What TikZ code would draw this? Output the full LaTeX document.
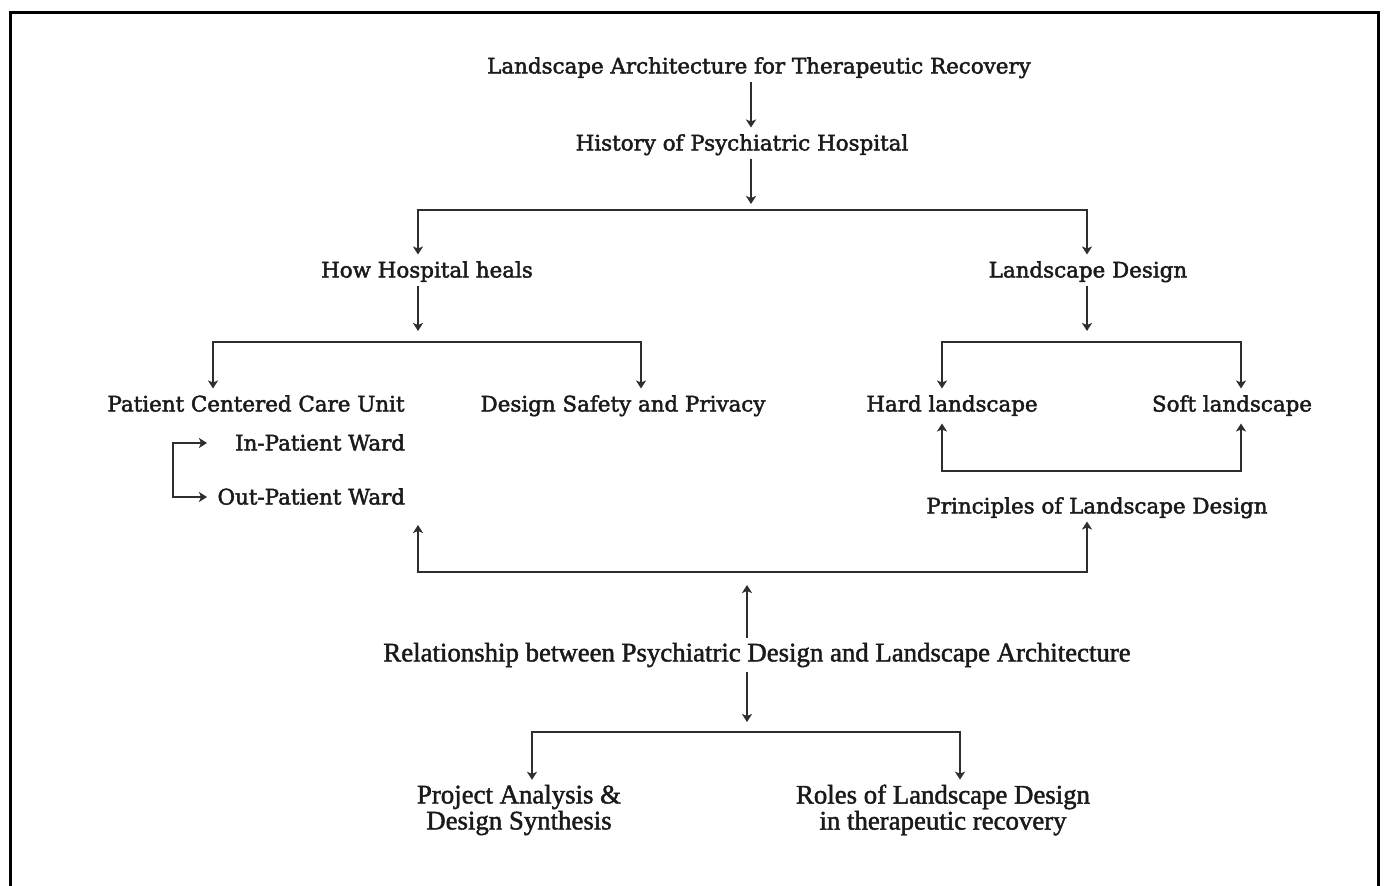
\documentclass[tikz,border=0pt]{standalone}
\usepackage{fontspec}
\setmainfont{DejaVu Serif}
\newfontfamily\timesfont{Liberation Serif}
\usetikzlibrary{arrows.meta}

\definecolor{ink}{HTML}{1A1A1A}
\definecolor{wire}{HTML}{2E2E2E}

% slightly heavier glyphs: fill and stroke the outlines
\newcommand{\heavyon}{\special{pdf:literal direct 2 Tr 0.45 w}}
\newcommand{\heavyoff}{\special{pdf:literal direct 0 Tr}}

\tikzset{
  lbl/.style={inner sep=0pt, outer sep=5pt, text=ink, text height=18pt, text depth=3pt,
    font=\fontsize{21.4}{26}\selectfont, align=center,
    execute at begin node=\heavyon, execute at end node=\heavyoff},
  tlbl/.style={inner sep=0pt, outer sep=5pt, text=ink,
    font=\timesfont\fontsize{26.8}{26}\selectfont, align=center,
    execute at begin node=\heavyon, execute at end node=\heavyoff},
  wirestyle/.style={draw=wire, line width=1.7pt},
  arr/.style={wirestyle, -{Stealth[length=8pt,width=10pt,inset=2pt]}},
  dbl/.style={wirestyle, line join=miter, {Stealth[length=8pt,width=10pt,inset=2pt]}-{Stealth[length=8pt,width=10pt,inset=2pt]}},
}

\begin{document}
\begin{tikzpicture}[x=1pt,y=-1pt]
\useasboundingbox (0,0) rectangle (1385,886);
\fill[white] (0,0) rectangle (1385,886);

% outer frame, open at the bottom edge
\draw[line width=3pt, black, line join=miter] (10,886) -- (10,12) -- (1378,12) -- (1378,886);

% labels
\node[lbl] (title) at (759,66) {Landscape Architecture for Therapeutic Recovery};
\node[lbl] (hist)  at (742,143) {History of Psychiatric Hospital};
\node[lbl] (how)   at (427,270) {How Hospital heals};
\node[lbl] (land)  at (1088,270) {Landscape Design};
\node[lbl] (pccu)  at (256,404) {Patient Centered Care Unit};
\node[lbl] (safe)  at (623,404) {Design Safety and Privacy};
\node[lbl] (hard)  at (952,404) {Hard landscape};
\node[lbl] (soft)  at (1232,404) {Soft landscape};
\node[lbl, anchor=east, outer sep=0pt] (inw)  at (405,443) {In-Patient Ward};
\node[lbl, anchor=east, outer sep=0pt] (outw) at (405,497) {Out-Patient Ward};
\node[lbl] (princ) at (1097,506) {Principles of Landscape Design};
\node[tlbl] (rel)  at (757,655) {Relationship between Psychiatric Design and Landscape Architecture};
\node[tlbl] (proj) at (519,810) {Project Analysis \&\\Design Synthesis};
\node[tlbl] (roles) at (943,810) {Roles of Landscape Design\\in therapeutic recovery};

% junction points
\coordinate (sp)  at (751,0);
\coordinate (a1)  at (418,210);
\coordinate (a2)  at (1087,210);
\coordinate (b1)  at (213,342);
\coordinate (b2)  at (641,342);
\coordinate (c1)  at (942,342);
\coordinate (c2)  at (1241,342);
\coordinate (d1)  at (942,471);
\coordinate (d2)  at (1241,471);
\coordinate (e1)  at (418,572);
\coordinate (e2)  at (1087,572);
\coordinate (etip) at (418,525);
\coordinate (rs)  at (747,0);
\coordinate (f1)  at (532,732);
\coordinate (f2)  at (960,732);
\coordinate (g1)  at (173,443);
\coordinate (g2)  at (173,497);
\coordinate (gt)  at (207,0);

% main spine
\draw[arr] (title.south -| sp) -- (hist.north -| sp);
\draw[arr] (hist.south -| sp) -- ([yshift=6pt]a1 -| sp);

% first split
\draw[dbl] (a1 |- how.north) -- (a1) -- (a2) -- (a2 |- land.north);

% hospital branch
\draw[arr] (how.south -| a1) -- ([yshift=11pt]b1 -| a1);
\draw[dbl] (b1 |- pccu.north) -- (b1) -- (b2) -- (b2 |- safe.north);

% landscape branch
\draw[arr] (land.south -| a2) -- ([yshift=11pt]c1 -| a2);
\draw[dbl] (c1 |- hard.north) -- (c1) -- (c2) -- (c2 |- soft.north);
\draw[dbl] ([yshift=-4pt]hard.south -| d1) -- (d1) -- (d2) -- ([yshift=-4pt]soft.south -| d2);

% ward bracket
\draw[dbl] (g1 -| gt) -- (g1) -- (g2) -- (g2 -| gt);

% joining the two sides
\draw[dbl] (etip) -- (e1) -- (e2) -- (princ.south -| e2);
\draw[arr] (rel.north -| rs) -- ([yshift=-13pt]e1 -| rs);

% final split
\draw[arr] (rel.south -| rs) -- ([yshift=10pt]f1 -| rs);
\draw[dbl] (f1 |- proj.north) -- (f1) -- (f2) -- (f2 |- roles.north);
\end{tikzpicture}
\end{document}
